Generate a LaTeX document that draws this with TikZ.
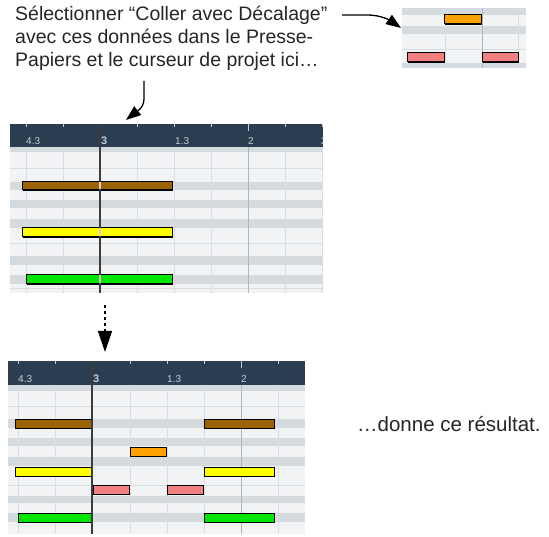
\documentclass[tikz,border=0pt]{standalone}
\usepackage{fontspec}
\setmainfont{Liberation Sans}
\usetikzlibrary{arrows.meta}
\definecolor{hdr}{HTML}{2B3D50}
\definecolor{rowwhite}{HTML}{F1F3F5}
\definecolor{rowgray}{HTML}{D5DADF}
\definecolor{gridline}{HTML}{D9DDE1}
\definecolor{barline}{HTML}{B0B5BA}
\definecolor{brownnote}{HTML}{9C6400}
\definecolor{yellownote}{HTML}{FFFF00}
\definecolor{greennote}{HTML}{00E600}
\definecolor{orangenote}{HTML}{FFA200}
\definecolor{pinknote}{HTML}{F28080}
\definecolor{ticklbl}{HTML}{C4CDD6}
\definecolor{cursorc}{HTML}{3C3C3C}
\newcommand\pnote[5]{%
  \fill[black] (#1+1.4,#2+1.4) rectangle (#3+1.4,#4+1.4);
  \filldraw[fill=#5,draw=black,line width=1pt] (#1,#2) rectangle (#3,#4);
}
\tikzset{
  txt/.style={font=\fontsize{19.5pt}{22pt}\selectfont, anchor=base west, inner sep=0pt, text=black!85},
  lbl/.style={font=\fontsize{10pt}{10pt}\selectfont, anchor=base west, inner sep=0pt, text=ticklbl},
  bigarrow/.style={line width=1.3pt, -{Triangle[length=15pt,width=11pt]}},
  gl/.style={gridline, line width=0.7pt},
  bl/.style={barline, line width=0.9pt},
  tk/.style={ticklbl, line width=0.8pt},
  cursor/.style={cursorc, line width=1.6pt}
}
\begin{document}
\begin{tikzpicture}[x=1pt,y=-1pt]
\useasboundingbox (0,0) rectangle (549,537);
\fill[white] (0,0) rectangle (549,537);

% ---------- texts ----------
\node[txt] (t1) at (15,21) {Sélectionner “Coller avec Décalage”};
\node[txt] (t2) at (15,44) {avec ces données dans le Presse-};
\node[txt] (t3) at (15,67) {Papiers et le curseur de projet ici…};
\node[txt,font=\fontsize{20.5pt}{22pt}\selectfont] (t4) at (357,431) {…donne ce résultat.};

% ---------- small clipboard panel ----------
\fill[rowwhite] (402,8) rectangle (526,68);
\foreach \a/\b in {8/15,26/34,63/68} \fill[rowgray] (402,\a) rectangle (526,\b);
\draw[gl] (402,49) -- (526,49);
\draw[gl] (445,8) -- (445,68);
\draw[gl] (518,8) -- (518,68);
\draw[bl] (482,8) -- (482,68);
\pnote{444}{15}{481}{24}{orangenote}
\pnote{407}{53}{444}{62}{pinknote}
\pnote{482}{53}{518}{62}{pinknote}
\coordinate (clipin) at (401,28);

% ---------- panel 1 ----------
\fill[rowwhite] (10,147) rectangle (323,293);
\foreach \a/\b in {147/152,182/190,200/208,219/228,256/265,275/284}
  \fill[rowgray] (10,\a) rectangle (323,\b);
\foreach \y in {168,243,288} \draw[gl] (10,\y) -- (323,\y);
\foreach \x in {26,63,137,174,211,285,322} \draw[gl] (\x,147) -- (\x,293);
\draw[bl] (248,147) -- (248,293);
\fill[hdr] (10,124) rectangle (323,147);
\foreach \x in {26,63,137,174,211,285,322} \draw[tk] (\x,124) -- (\x,127.5);
\draw[tk] (248,124) -- (248,131);
\begin{scope}
\clip (10,124) rectangle (323,147);
\node[lbl] (p1l1) at (26,144.5) {4.3};
\node[lbl,font=\fontsize{11pt}{11pt}\selectfont\bfseries] (p1l2) at (101,144.5) {3};
\node[lbl] (p1l3) at (175,144.5) {1.3};
\node[lbl] (p1l4) at (248,144.5) {2};
\node[lbl] (p1l5) at (321,144.5) {2};
\end{scope}
\pnote{22}{182}{172}{190}{brownnote}
\pnote{22}{228}{172}{237}{yellownote}
\pnote{26}{275}{172}{284}{greennote}
\draw[cursor] (100,124) -- (100,293);
\foreach \a/\b in {182.5/189.5,228.5/236.5,275.5/283.5}
  \draw[line width=1.2pt, white!80!violet] (100,\a) -- (100,\b);
\coordinate (p1in) at (126,120);
\coordinate (p1out) at (105,305);

% ---------- panel 2 ----------
\fill[rowwhite] (8,385) rectangle (305,534);
\foreach \a/\b in {385/391,419/428,438/446,457/466,496/503,513/522}
  \fill[rowgray] (8,\a) rectangle (305,\b);
\foreach \y in {406,485} \draw[gl] (8,\y) -- (305,\y);
\foreach \x in {18,55,130,167,204,278} \draw[gl] (\x,385) -- (\x,534);
\draw[bl] (241,385) -- (241,534);
\fill[hdr] (8,361) rectangle (305,385);
\foreach \x in {18,55,130,167,204,278} \draw[tk] (\x,361) -- (\x,364.5);
\draw[tk] (241,361) -- (241,368);
\node[lbl] (p2l1) at (18,382.5) {4.3};
\node[lbl,font=\fontsize{11pt}{11pt}\selectfont\bfseries] (p2l2) at (93,382.5) {3};
\node[lbl] (p2l3) at (167,382.5) {1.3};
\node[lbl] (p2l4) at (241,382.5) {2};
\pnote{15}{419}{92}{428}{brownnote}
\pnote{204}{419}{274}{428}{brownnote}
\pnote{130}{447}{166}{456}{orangenote}
\pnote{15}{467}{92}{476}{yellownote}
\pnote{204}{467}{274}{476}{yellownote}
\pnote{93}{485}{129}{494}{pinknote}
\pnote{167}{485}{203}{494}{pinknote}
\pnote{18}{513}{92}{522}{greennote}
\pnote{204}{513}{274}{522}{greennote}
\draw[cursor] (92,361) -- (92,534);
\coordinate (p2in) at (105,352);

% ---------- arrows ----------
\coordinate (a1s) at (144,81);
\coordinate (a2s) at (342,15);
\draw[bigarrow] (a1s) -- (144,99) .. controls (144,108) and (136,112) .. (p1in);
\draw[bigarrow] (a2s) -- (368,15) .. controls (381,15) and (391,21) .. (clipin);
\draw[line width=1.4pt, dash pattern=on 3pt off 3pt] (p1out) -- (105,331);
\draw[line width=1.4pt, -{Triangle[length=21pt,width=14pt]}] (105,331) -- (p2in);
\end{tikzpicture}
\end{document}
